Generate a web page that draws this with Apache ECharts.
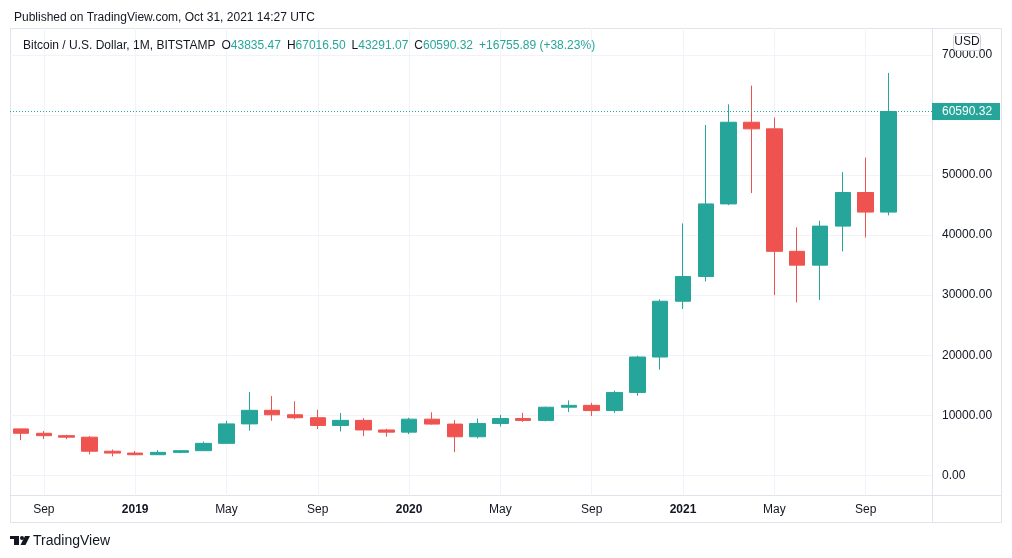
<!DOCTYPE html>
<html>
<head>
<meta charset="utf-8">
<script src="https://cdn.jsdelivr.net/npm/echarts@6/dist/echarts.min.js"></script>
<style>
html,body{margin:0;padding:0;background:#fff;}
#c{width:1012px;height:558px;}
</style>
</head>
<body>
<div id="c"></div>
<script>
// ---- data (monthly BTC/USD, Bitstamp) ----
var months = ['Aug 2018','Sep 2018','Oct 2018','Nov 2018','Dec 2018',
  'Jan 2019','Feb 2019','Mar 2019','Apr 2019','May 2019','Jun 2019','Jul 2019','Aug 2019','Sep 2019','Oct 2019','Nov 2019','Dec 2019',
  'Jan 2020','Feb 2020','Mar 2020','Apr 2020','May 2020','Jun 2020','Jul 2020','Aug 2020','Sep 2020','Oct 2020','Nov 2020','Dec 2020',
  'Jan 2021','Feb 2021','Mar 2021','Apr 2021','May 2021','Jun 2021','Jul 2021','Aug 2021','Sep 2021','Oct 2021'];
var opens  = [7730,7000,6600,6350,4010, 3700,3430,3820,4100,5320,8560,10820,10080,9590,8300,9150,7550,
  7190,9350,8530,6420,8630,9450,9140,11340,11650,10780,13800,19700, 28990,33110,45200,58800,57700,37300,35000,41500,47100,43835.47];
var highs  = [7760,7380,6750,6550,4300, 4050,4200,4100,5600,9070,13880,13200,12330,10910,10370,9510,7750,
  9580,10500,9190,9460,10070,10400,11440,12470,12070,14100,19900,29300, 41950,58350,61780,64900,59600,41300,42400,50500,52900,67016.50];
var lows   = [5850,6050,6000,3480,3150, 3350,3380,3670,4050,5320,7450,9070,9350,7710,7300,6520,6430,
  6860,8450,3850,6150,8120,8900,8980,10540,9880,10400,13250,17600, 27700,32300,45000,47000,30000,28800,29200,37300,39600,43291.07];
var closes = [7000,6600,6350,4010,3700, 3430,3820,4100,5320,8560,10820,10080,9590,8300,9150,7550,7190,
  9350,8530,6420,8630,9450,9140,11340,11650,10780,13800,19700,28990, 33110,45200,58800,57700,37300,35000,41500,47100,43834.43,60590.32];
var priceTicks = [0,10000,20000,30000,40000,50000,60000,70000];
var tickMonths = ['Jan','May','Sep']; // Jan shows the year in bold

var UP = '#26a69a', DOWN = '#ef5350', TXT = '#131722', GRID = '#f0f3fa', FRAME = '#e0e3eb';
var FONT = 'Liberation Sans';

var candleData = months.map(function(m, i){ return [opens[i], closes[i], lows[i], highs[i]]; });
var n = months.length;
var lastO = opens[n-1], lastH = highs[n-1], lastL = lows[n-1], lastC = closes[n-1];
var chg = lastC - closes[n-2];
var chgPct = chg / closes[n-2] * 100;

function showTick(idx){ return tickMonths.indexOf(months[idx].split(' ')[0]) >= 0; }

var chart = echarts.init(document.getElementById('c'), null, {renderer:'canvas'});
var option = {
  animation:false,
  backgroundColor:'#fff',
  textStyle:{fontFamily:FONT},
  title:[
    {text:'Published on TradingView.com, Oct 31, 2021 14:27 UTC', left:9, top:7,
     textStyle:{fontFamily:FONT, fontSize:12, fontWeight:'normal', color:TXT}},
    {text:'{t|Bitcoin / U.S. Dollar, 1M, BITSTAMP}{s|}{t|O}{g|'+lastO.toFixed(2)+'}{s|}{t|H}{g|'+lastH.toFixed(2)+'}{s|}{t|L}{g|'+lastL.toFixed(2)+'}{s|}{t|C}{g|'+lastC.toFixed(2)+'}{s|}{g|+'+chg.toFixed(2)+' (+'+chgPct.toFixed(2)+'%)}',
     left:18, top:35,
     textStyle:{fontFamily:FONT, fontSize:12, fontWeight:'normal', color:TXT,
       rich:{t:{fontFamily:FONT, fontSize:12, color:TXT}, g:{fontFamily:FONT, fontSize:12, color:UP}, s:{width:6}}}}
  ],
  grid:[
    {left:21, right:123.5, top:55, bottom:82.7},
    {left:10, right:80, top:55, bottom:82.7},
    {left:21, right:123.5, top:28, bottom:62.5}
  ],
  xAxis:[
    {type:'category', gridIndex:0, data:months, boundaryGap:false, show:false},
    {type:'value', gridIndex:1, min:0, max:1, show:false},
    {type:'category', gridIndex:2, data:months, boundaryGap:false,
     axisLine:{show:false}, axisTick:{show:false},
     axisLabel:{interval:function(i){return showTick(i);}, margin:8, color:TXT, fontSize:12, fontFamily:FONT,
       formatter:function(v){ var p=v.split(' '); return p[0]==='Jan' ? '{b|'+p[1]+'}' : p[0]; },
       rich:{b:{fontWeight:'bold', fontSize:12, color:TXT, fontFamily:FONT}}},
     splitLine:{show:true, interval:function(i){return showTick(i);}, lineStyle:{color:GRID, width:1}}}
  ],
  yAxis:[
    {type:'value', gridIndex:0, min:0, max:70000, show:false},
    {type:'value', gridIndex:1, position:'right', min:priceTicks[0], max:priceTicks[priceTicks.length-1], interval:10000,
     axisLine:{show:false}, axisTick:{show:false},
     axisLabel:{margin:10, color:TXT, fontSize:12, fontFamily:FONT, formatter:function(v){return v.toFixed(2);}},
     splitLine:{show:true, lineStyle:{color:GRID, width:1}}},
    {type:'value', gridIndex:2, show:false}
  ],
  series:[
    {type:'candlestick', xAxisIndex:0, yAxisIndex:0, data:candleData, barWidth:16, clip:false,
     itemStyle:{color:UP, color0:DOWN, borderColor:UP, borderColor0:DOWN, borderWidth:1}},
    {type:'line', xAxisIndex:1, yAxisIndex:1, data:[], silent:true,
     markLine:{symbol:['none','none'], silent:true, animation:false,
       lineStyle:{color:UP, type:[1,2], width:1, opacity:1},
       label:{show:true, position:'end', distance:0, formatter:function(){return lastC.toFixed(2);},
         backgroundColor:UP, color:'#fff', fontSize:12, fontFamily:FONT, padding:[3,8,2,10]},
       data:[{yAxis:lastC}]}}
  ],
  graphic:[
    {type:'rect', shape:{x:10.5, y:28.5, width:991, height:494}, style:{fill:'none', stroke:FRAME, lineWidth:1}, z:0, silent:true},
    {type:'line', shape:{x1:932.5, y1:28.5, x2:932.5, y2:522.5}, style:{stroke:FRAME, lineWidth:1}, silent:true},
    {type:'line', shape:{x1:10.5, y1:495.5, x2:1001.5, y2:495.5}, style:{stroke:FRAME, lineWidth:1}, silent:true},
    {type:'rect', shape:{x:953.5, y:33.5, width:27, height:17, r:3}, style:{fill:'#fff', stroke:'#d1d4dc', lineWidth:1}, silent:true, z:10},
    {type:'text', x:967, y:42, style:{text:'USD', fill:TXT, font:'12px "'+FONT+'"', align:'center', verticalAlign:'middle'}, z:11, silent:true},
    // TradingView logo
    {type:'rect', shape:{x:10, y:536, width:9, height:3}, style:{fill:TXT}, silent:true},
    {type:'rect', shape:{x:14, y:536, width:5, height:9}, style:{fill:TXT}, silent:true},
    {type:'circle', shape:{cx:22, cy:538, r:2}, style:{fill:TXT}, silent:true},
    {type:'polygon', shape:{points:[[25,536],[30,536],[25.5,545],[20.5,545]]}, style:{fill:TXT}, silent:true},
    {type:'text', x:33, y:541, style:{text:'TradingView', fill:TXT, font:'14px "'+FONT+'"', verticalAlign:'middle'}, silent:true}
  ]
};
chart.setOption(option);
</script>
</body>
</html>
